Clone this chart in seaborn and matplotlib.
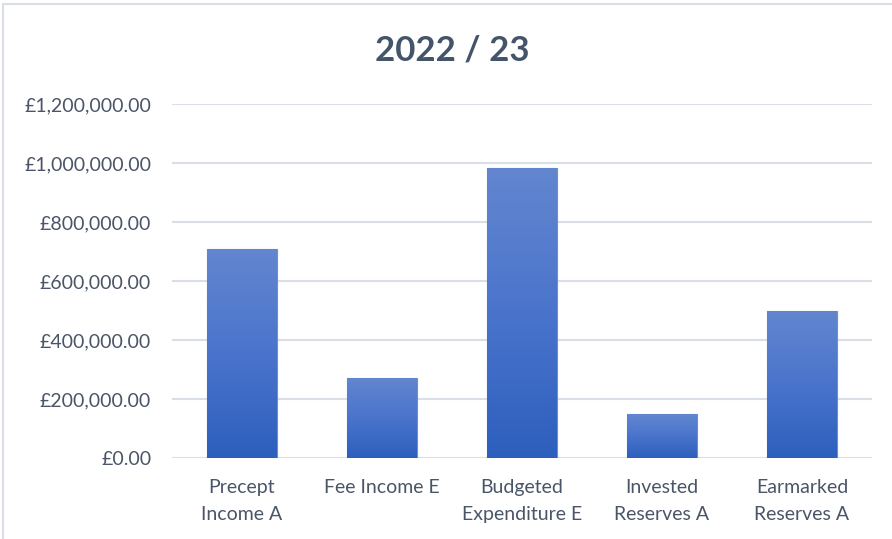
import matplotlib
matplotlib.use("Agg")
import matplotlib.pyplot as plt
import seaborn as sns
import numpy as np
import pandas as pd
from matplotlib.ticker import FuncFormatter
from matplotlib.patches import Rectangle
from matplotlib.colors import LinearSegmentedColormap

categories = ["Precept\nIncome A", "Fee Income E", "Budgeted\nExpenditure E", "Invested\nReserves A", "Earmarked\nReserves A"]
values = [708000, 271000, 983000, 149000, 498000]
title = "2022 / 23"

sns.set_theme(style="white")
plt.rcParams['font.family'] = ['Lato', 'DejaVu Sans']

fig = plt.figure(figsize=(8.92, 5.39), dpi=100)
ax = fig.add_axes([172/892, 1-458/539, 700/892, (458-104)/539])

df = pd.DataFrame({"cat": categories, "val": values})
sns.barplot(data=df, x="cat", y="val", ax=ax, width=0.5, color="#4472c4", saturation=1)

ax.set_ylim(0, 1200000)
ax.set_xlim(-0.5, 4.5)
ax.set_yticks(np.arange(0, 1200001, 200000))
ax.yaxis.set_major_formatter(FuncFormatter(lambda v, p: "£{:,.2f}".format(v)))
ax.grid(axis="y", color="#d9dee7", linewidth=1.5)
ax.set_axisbelow(True)
for s in ax.spines.values():
    s.set_visible(False)
ax.set_xlabel("")
ax.set_ylabel("")
ax.tick_params(axis="y", length=0, pad=15, labelsize=14, labelcolor="#4a5568")
ax.tick_params(axis="x", length=0, pad=15, labelsize=14, labelcolor="#4a5568")
for t in ax.get_xticklabels():
    t.set_linespacing(1.7)

cmap = LinearSegmentedColormap.from_list("g", ["#2d5fbd", "#4a74cc", "#6286cf"])
grad = np.linspace(0, 1, 256).reshape(-1, 1)
for p in list(ax.patches):
    x0, y0 = p.get_x(), p.get_y()
    w, h = p.get_width(), p.get_height()
    im = ax.imshow(grad, cmap=cmap, aspect="auto", origin="lower",
                   extent=[x0, x0 + w, y0, y0 + h], zorder=p.get_zorder() + 0.1)
    im.set_clip_path(p)
    p.set_edgecolor("#6a8fd6")
    p.set_linewidth(0.8)
ax.set_xlim(-0.5, 4.5)
ax.set_ylim(0, 1200000)

fig.text(452/892, 1-51/539, title, ha="center", va="center", fontsize=25,
         fontweight="bold", color="#44546a")

fig.patches.append(Rectangle((3/892, -0.05), 1.2, 1 - 4/539 + 0.05, transform=fig.transFigure,
                             fill=False, edgecolor="#d9dee7", linewidth=1.5))

fig.savefig("out.png", dpi=100)
